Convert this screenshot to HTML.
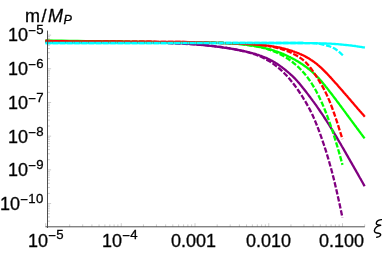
<!DOCTYPE html><html><head><meta charset="utf-8"><title>plot</title><style>html,body{margin:0;padding:0;background:#fff;}body{filter:blur(0.35px);width:382px;height:255px;overflow:hidden;position:relative;font-family:"Liberation Sans",sans-serif;color:#000;}svg{position:absolute;left:0;top:0;}.t,.yl,.xl{will-change:transform;opacity:0.999;-webkit-text-stroke:0.3px #000;}.t{position:absolute;font-size:18px;line-height:20px;white-space:nowrap;}.yl{position:absolute;right:338.0px;font-size:18px;line-height:20px;white-space:nowrap;}.xl{position:absolute;top:230.9px;font-size:18px;line-height:20px;white-space:nowrap;}.sup{font-size:13.2px;letter-spacing:0.3px;position:relative;top:-6.9px;line-height:0;margin-left:0.3px;}.xl .sup{top:-7.8px;}.mn{position:relative;top:1px;}.sub{font-size:12.6px;position:relative;top:2.4px;line-height:0;font-style:italic;margin-left:0.5px;}i{font-style:italic;}</style></head><body><svg width="382" height="255" viewBox="0 0 382 255"><path d="M45.5 41.8L53.5 42.1L61.5 42.3L69.5 42.4L77.5 42.5L85.5 42.5L93.5 42.5L101.5 42.4L109.5 42.4L117.5 42.3L125.5 42.3L133.5 42.3L141.5 42.3L149.5 42.4L157.5 42.5L165.5 42.7L173.5 43L181.5 43.4L189.5 43.9L197.5 44.5L200 44.7L201 44.8L202 44.9L203 45L204 45.1L205 45.2L206 45.3L207 45.4L208 45.5L209 45.7L210 45.8L211 45.9L212 46L213 46.1L214 46.2L215 46.4L216 46.5L217 46.6L218 46.8L219 46.9L220 47L221 47.2L222 47.3L223 47.5L224 47.6L225 47.8L226 47.9L227 48.1L228 48.2L229 48.4L230 48.6L231 48.7L232 48.9L233 49.1L234 49.2L235 49.4L236 49.6L237 49.8L238 50L239 50.2L240 50.4L241 50.6L242 50.8L243 51L244 51.2L245 51.4L246 51.6L247 51.9L248 52.1L249 52.3L250 52.6L251 52.8L252 53.1L253 53.4L254 53.6L255 53.9L256 54.2L257 54.6L258 54.9L259 55.2L260 55.6L261 55.9L262 56.3L263 56.7L264 57.1L265 57.5L266 57.9L267 58.4L268 58.9L269 59.3L270 59.8L271 60.4L272 60.9L273 61.4L274 62L275 62.6L276 63.2L277 63.8L278 64.5L279 65.2L280 65.9L281 66.6L282 67.3L283 68.1L284 68.9L285 69.7L286 70.5L287 71.3L288 72.1L289 73L290 73.9L291 74.8L292 75.7L293 76.6L294 77.6L295 78.6L296 79.7L297 80.8L298 81.9L299 83.1L300 84.3L301 85.5L302 86.7L303 88L304 89.2L305 90.5L306 91.8L307 93.1L308 94.4L309 95.7L310 97L311 98.4L312 99.7L313 101.1L314 102.4L315 103.8L316 105.2L317 106.7L318 108.1L319 109.5L320 111L321 112.5L322 113.9L323 115.4L324 117L325 118.5L326 120L327 121.6L328 123.1L329 124.7L330 126.3L331 128L332 129.6L333 131.2L334 132.9L335 134.5L336 136.2L337 137.9L338 139.6L339 141.3L340 143L341 144.7L342 146.5L343 148.2L344 149.9L345 151.7L346 153.4L347 155.2L348 156.9L349 158.7L350 160.4L351 162.2L352 163.9L353 165.7L354 167.4L355 169.2L356 170.9L357 172.7L358 174.4L359 176.2L360 178L361 179.7L362 181.5L363 183.3L364 185.1L364.6 186.2" fill="none" stroke="#800080" stroke-width="2.3" stroke-linecap="butt" stroke-linejoin="round"/><path d="M45.5 40.5L53.5 40.6L61.5 40.7L69.5 40.8L77.5 40.9L85.5 41.1L93.5 41.2L101.5 41.3L109.5 41.4L117.5 41.5L125.5 41.7L133.5 41.8L141.5 41.9L149.5 42L157.5 42.1L165.5 42.2L173.5 42.3L181.5 42.4L189.5 42.5L197.5 42.6L200 42.6L201 42.6L202 42.6L203 42.7L204 42.7L205 42.7L206 42.7L207 42.7L208 42.7L209 42.7L210 42.7L211 42.7L212 42.8L213 42.8L214 42.8L215 42.8L216 42.8L217 42.9L218 42.9L219 42.9L220 42.9L221 43L222 43L223 43L224 43.1L225 43.1L226 43.1L227 43.2L228 43.2L229 43.3L230 43.3L231 43.4L232 43.5L233 43.5L234 43.6L235 43.7L236 43.7L237 43.8L238 43.9L239 44L240 44.1L241 44.2L242 44.3L243 44.4L244 44.5L245 44.6L246 44.7L247 44.9L248 45L249 45.1L250 45.3L251 45.4L252 45.6L253 45.7L254 45.9L255 46.1L256 46.2L257 46.4L258 46.6L259 46.8L260 47L261 47.2L262 47.4L263 47.6L264 47.9L265 48.1L266 48.4L267 48.6L268 48.9L269 49.1L270 49.4L271 49.7L272 50L273 50.3L274 50.6L275 51L276 51.3L277 51.6L278 52L279 52.4L280 52.7L281 53.1L282 53.5L283 53.9L284 54.4L285 54.8L286 55.2L287 55.7L288 56.2L289 56.7L290 57.1L291 57.7L292 58.2L293 58.7L294 59.3L295 59.8L296 60.4L297 61L298 61.6L299 62.2L300 62.8L301 63.5L302 64.1L303 64.8L304 65.5L305 66.2L306 66.9L307 67.7L308 68.5L309 69.2L310 70L311 70.9L312 71.7L313 72.6L314 73.5L315 74.5L316 75.5L317 76.5L318 77.5L319 78.6L320 79.7L321 80.8L322 82L323 83.2L324 84.4L325 85.6L326 86.9L327 88.1L328 89.4L329 90.7L330 92L331 93.2L332 94.5L333 95.9L334 97.2L335 98.5L336 99.8L337 101.2L338 102.5L339 103.8L340 105.2L341 106.5L342 107.9L343 109.2L344 110.6L345 111.9L346 113.3L347 114.7L348 116L349 117.4L350 118.7L351 120.1L352 121.4L353 122.8L354 124.1L355 125.5L356 126.8L357 128.2L358 129.5L359 130.9L360 132.2L361 133.6L362 134.9L363 136.3L364 137.6L364.6 138.4" fill="none" stroke="#00ff00" stroke-width="2.3" stroke-linecap="butt" stroke-linejoin="round"/><path d="M45.5 40.9L53.5 41.1L61.5 41.2L69.5 41.2L77.5 41.3L85.5 41.4L93.5 41.4L101.5 41.4L109.5 41.5L117.5 41.5L125.5 41.6L133.5 41.6L141.5 41.6L149.5 41.7L157.5 41.8L165.5 41.8L173.5 41.9L181.5 42L189.5 42.2L197.5 42.3L200 42.4L201 42.4L202 42.4L203 42.5L204 42.5L205 42.5L206 42.5L207 42.6L208 42.6L209 42.6L210 42.7L211 42.7L212 42.7L213 42.7L214 42.8L215 42.8L216 42.8L217 42.9L218 42.9L219 42.9L220 43L221 43L222 43L223 43.1L224 43.1L225 43.1L226 43.2L227 43.2L228 43.2L229 43.3L230 43.3L231 43.4L232 43.4L233 43.4L234 43.5L235 43.5L236 43.6L237 43.6L238 43.6L239 43.7L240 43.7L241 43.8L242 43.8L243 43.9L244 43.9L245 44L246 44L247 44.1L248 44.1L249 44.2L250 44.2L251 44.3L252 44.3L253 44.4L254 44.5L255 44.5L256 44.6L257 44.7L258 44.7L259 44.8L260 44.9L261 45L262 45.1L263 45.2L264 45.3L265 45.4L266 45.5L267 45.6L268 45.7L269 45.9L270 46L271 46.1L272 46.3L273 46.4L274 46.6L275 46.8L276 46.9L277 47.1L278 47.3L279 47.5L280 47.7L281 47.9L282 48.2L283 48.4L284 48.6L285 48.9L286 49.2L287 49.4L288 49.7L289 50L290 50.3L291 50.6L292 50.9L293 51.3L294 51.6L295 52L296 52.3L297 52.7L298 53.1L299 53.5L300 54L301 54.4L302 54.9L303 55.3L304 55.8L305 56.3L306 56.9L307 57.4L308 58L309 58.6L310 59.2L311 59.9L312 60.5L313 61.2L314 61.9L315 62.7L316 63.4L317 64.2L318 65.1L319 65.9L320 66.8L321 67.7L322 68.6L323 69.6L324 70.6L325 71.6L326 72.6L327 73.6L328 74.7L329 75.8L330 76.9L331 77.9L332 79L333 80.2L334 81.3L335 82.4L336 83.5L337 84.6L338 85.8L339 86.9L340 88.1L341 89.2L342 90.3L343 91.5L344 92.7L345 93.8L346 95L347 96.1L348 97.3L349 98.4L350 99.6L351 100.8L352 101.9L353 103.1L354 104.3L355 105.4L356 106.6L357 107.7L358 108.9L359 110L360 111.2L361 112.3L362 113.5L363 114.6L364 115.8L364.8 116.7" fill="none" stroke="#ff0000" stroke-width="2.3" stroke-linecap="butt" stroke-linejoin="round"/><path d="M45.5 43L53.5 43L61.5 43L69.5 43L77.5 43L85.5 43L93.5 43L101.5 43L109.5 43L117.5 43L125.5 43L133.5 43L141.5 43L149.5 43L157.5 43L165.5 43L173.5 43L181.5 43L189.5 43L197.5 43L200 43L201 43L202 43L203 43L204 43L205 43L206 43L207 43L208 43L209 43L210 43L211 43L212 43L213 43L214 43L215 43L216 43L217 43L218 43L219 43L220 43L221 43L222 43L223 43L224 43L225 43L226 43L227 43L228 43L229 43L230 43L231 43L232 43L233 43L234 43L235 43L236 43L237 43L238 43L239 43L240 43L241 43L242 43L243 43L244 43L245 43L246 43L247 43L248 43L249 43L250 43L251 43L252 43L253 43L254 43L255 43L256 43L257 43L258 43L259 43L260 43L261 43L262 43L263 43L264 43L265 43L266 43L267 43L268 43L269 43L270 43L271 43L272 43L273 43L274 43L275 43L276 43L277 43L278 43L279 43L280 43L281 43L282 43L283 43L284 43L285 43L286 43L287 43L288 43L289 43L290 43L291 43L292 43L293 43L294 43L295 43L296 43L297 43L298 43L299 43L300 43L301 43L302 43L303 43L304 43.1L305 43.1L306 43.1L307 43.1L308 43.1L309 43.1L310 43.1L311 43.1L312 43.1L313 43.1L314 43.2L315 43.2L316 43.2L317 43.2L318 43.3L319 43.3L320 43.3L321 43.3L322 43.4L323 43.4L324 43.5L325 43.5L326 43.5L327 43.6L328 43.6L329 43.7L330 43.7L331 43.7L332 43.8L333 43.9L334 43.9L335 44L336 44.1L337 44.1L338 44.2L339 44.3L340 44.4L341 44.5L342 44.6L343 44.7L344 44.8L345 44.9L346 45L347 45.1L348 45.2L349 45.3L350 45.4L351 45.5L352 45.6L353 45.8L354 45.9L355 46L356 46.2L357 46.3L358 46.5L359 46.6L360 46.8L361 46.9L362 47.1L363 47.3L364 47.4L364.9 47.6" fill="none" stroke="#00ffff" stroke-width="2.3" stroke-linecap="butt" stroke-linejoin="round"/><path d="M45.5 41.8L53.5 41.9L61.5 41.9L69.5 42L77.5 42L85.5 42L93.5 42L101.5 42L109.5 42L117.5 42.1L125.5 42.1L133.5 42.2L141.5 42.3L149.5 42.5L157.5 42.7L165.5 42.9L173.5 43.3L181.5 43.6L189.5 44.1L197.5 44.6L200 44.8L201 44.9L202 45L203 45.1L204 45.2L205 45.2L206 45.3L207 45.4L208 45.5L209 45.6L210 45.7L211 45.8L212 45.9L213 46L214 46.1L215 46.3L216 46.4L217 46.5L218 46.6L219 46.8L220 46.9L221 47L222 47.2L223 47.3L224 47.4L225 47.6L226 47.7L227 47.9L228 48.1L229 48.2L230 48.4L231 48.6L232 48.7L233 48.9L234 49.1L235 49.3L236 49.5L237 49.7L238 49.9L239 50.1L240 50.3L241 50.5L242 50.8L243 51L244 51.2L245 51.5L246 51.7" fill="none" stroke="#800080" stroke-width="2.3" stroke-linecap="butt" stroke-linejoin="round" stroke-dasharray="5.4 1.8"/><path d="M246 51.7L247 52L248 52.2L249 52.5L250 52.8L251 53.1L252 53.4L253 53.7L254 54.1L255 54.4L256 54.8L257 55.2L258 55.6L259 56L260 56.4L261 56.8L262 57.3L263 57.8L264 58.3L265 58.8L266 59.3L267 59.9L268 60.4L269 61L270 61.6L271 62.3L272 63L273 63.6L274 64.4L275 65.1L276 65.9L277 66.6L278 67.5L279 68.3L280 69.2L281 70.1L282 71L283 72L284 72.9L285 74L286 75L287 76.1L288 77.2L289 78.3L290 79.5L291 80.7L292 81.9L293 83.2L294 84.5L295 85.8L296 87.2L297 88.6L298 90L299 91.5L300 93L301 94.5L302 96L303 97.6L304 99.3L305 100.9L306 102.6L307 104.4L308 106.2L309 108L310 109.9L311 111.9L312 114L313 116.1L314 118.4L315 120.7L316 123.1L317 125.6L318 128.1L319 130.8L320 133.5L321 136.3L322 139.2L323 142.1L324 145L325 148.1L326 151.2L327 154.5L328 157.8L329 161.2L330 164.7L331 168.3L332 172L333 175.9L334 179.8L335 183.9L336 188.1L337 192.5L338 196.9L339 201.4L340 206L341 210.7L342 215.5L342.4 217.4" fill="none" stroke="#800080" stroke-width="2.3" stroke-linecap="butt" stroke-linejoin="round" stroke-dasharray="5.4 1.8" stroke-dashoffset="6.86"/><path d="M45.5 41.1L53.5 41.1L61.5 41.1L69.5 41.2L77.5 41.2L85.5 41.3L93.5 41.4L101.5 41.5L109.5 41.6L117.5 41.7L125.5 41.8L133.5 41.9L141.5 42L149.5 42.1L157.5 42.2L165.5 42.3L173.5 42.4L181.5 42.5L189.5 42.5L197.5 42.6L200 42.6L201 42.6L202 42.6L203 42.6L204 42.6L205 42.6L206 42.6L207 42.6L208 42.6L209 42.7L210 42.7L211 42.7L212 42.7L213 42.7L214 42.7L215 42.7L216 42.8L217 42.8L218 42.8L219 42.8L220 42.8L221 42.9L222 42.9L223 42.9L224 43L225 43L226 43.1L227 43.1L228 43.1L229 43.2L230 43.3L231 43.3L232 43.4L233 43.4L234 43.5L235 43.6L236 43.7L237 43.8L238 43.8L239 43.9L240 44L241 44.1L242 44.2L243 44.4L244 44.5L245 44.6L246 44.7L247 44.9L248 45L249 45.1L250 45.3L251 45.5L252 45.6L253 45.8L254 46L255 46.2L256 46.3L257 46.5L258 46.7L259 47L260 47.2L261 47.4L262 47.7" fill="none" stroke="#00ff00" stroke-width="2.3" stroke-linecap="butt" stroke-linejoin="round" stroke-dasharray="5.4 1.8"/><path d="M262 47.7L263 47.9L264 48.2L265 48.4L266 48.7L267 49L268 49.3L269 49.6L270 50L271 50.3L272 50.7L273 51.1L274 51.5L275 51.9L276 52.3L277 52.7L278 53.2L279 53.7L280 54.2L281 54.7L282 55.2L283 55.8L284 56.3L285 56.9L286 57.5L287 58.2L288 58.8L289 59.5L290 60.2L291 60.9L292 61.7L293 62.5L294 63.3L295 64.1L296 65L297 65.8L298 66.8L299 67.7L300 68.7L301 69.7L302 70.8L303 71.9L304 73L305 74.2L306 75.5L307 76.7L308 78.1L309 79.5L310 80.9L311 82.4L312 84L313 85.6L314 87.3L315 89L316 90.8L317 92.7L318 94.6L319 96.6L320 98.7L321 100.9L322 103.1L323 105.4L324 107.8L325 110.3L326 112.8L327 115.4L328 118.1L329 120.8L330 123.6L331 126.5L332 129.5L333 132.5L334 135.7L335 138.8L336 142.1L337 145.4L338 148.8L339 152.3L340 155.8L341 159.4L342 163L342.5 164.9" fill="none" stroke="#00ff00" stroke-width="2.3" stroke-linecap="butt" stroke-linejoin="round" stroke-dasharray="5.4 1.8" stroke-dashoffset="2.83"/><path d="M45.5 40.9L53.5 41.1L61.5 41.2L69.5 41.3L77.5 41.3L85.5 41.4L93.5 41.4L101.5 41.5L109.5 41.5L117.5 41.5L125.5 41.6L133.5 41.6L141.5 41.6L149.5 41.7L157.5 41.8L165.5 41.8L173.5 41.9L181.5 42L189.5 42.2L197.5 42.3L200 42.4L201 42.4L202 42.4L203 42.4L204 42.5L205 42.5L206 42.5L207 42.5L208 42.6L209 42.6L210 42.6L211 42.6L212 42.7L213 42.7L214 42.7L215 42.8L216 42.8L217 42.8L218 42.8L219 42.9L220 42.9L221 42.9L222 43L223 43L224 43L225 43.1L226 43.1L227 43.2L228 43.2L229 43.2L230 43.3L231 43.3L232 43.3L233 43.4L234 43.4L235 43.5L236 43.5L237 43.5L238 43.6L239 43.6L240 43.7L241 43.7L242 43.8L243 43.8L244 43.9L245 43.9L246 44L247 44L248 44.1L249 44.1L250 44.2L251 44.2L252 44.3L253 44.4L254 44.4L255 44.5L256 44.6L257 44.7L258 44.7L259 44.8L260 44.9L261 45L262 45.2L263 45.3L264 45.4L265 45.5L266 45.7L267 45.8L268 46" fill="none" stroke="#ff0000" stroke-width="2.3" stroke-linecap="butt" stroke-linejoin="round" stroke-dasharray="5.4 1.8"/><path d="M268 46L269 46.1L270 46.3L271 46.5L272 46.7L273 46.9L274 47.1L275 47.3L276 47.6L277 47.8L278 48.1L279 48.4L280 48.6L281 48.9L282 49.3L283 49.6L284 49.9L285 50.3L286 50.6L287 51L288 51.4L289 51.8L290 52.3L291 52.7L292 53.2L293 53.7L294 54.2L295 54.7L296 55.2L297 55.8L298 56.4L299 57L300 57.7L301 58.4L302 59.1L303 59.9L304 60.8L305 61.7L306 62.6L307 63.7L308 64.8L309 65.9L310 67.2L311 68.5L312 69.9L313 71.3L314 72.8L315 74.3L316 75.9L317 77.5L318 79.1L319 80.7L320 82.3L321 84L322 85.7L323 87.4L324 89.3L325 91.2L326 93.2L327 95.3L328 97.6L329 99.9L330 102.3L331 104.9L332 107.5L333 110.2L334 113L335 115.9L336 118.8L337 121.9L338 125L339 128.2L340 131.4L341 134.5L342 137.7L342.5 139.2" fill="none" stroke="#ff0000" stroke-width="2.3" stroke-linecap="butt" stroke-linejoin="round" stroke-dasharray="5.4 1.8" stroke-dashoffset="2.22"/><path d="M45.5 43L53.5 43L61.5 43L69.5 43L77.5 43L85.5 43L93.5 43L101.5 43L109.5 43L117.5 43L125.5 43L133.5 43L141.5 43L149.5 43L157.5 43L165.5 43L173.5 43L181.5 43L189.5 43L197.5 43L200 43L201 43L202 43L203 43L204 43L205 43L206 43L207 43L208 43L209 43L210 43L211 43L212 43L213 43L214 43L215 43L216 43L217 43L218 43L219 43L220 43L221 43L222 43L223 43L224 43L225 43L226 43L227 43L228 43L229 43L230 43L231 43L232 43L233 43L234 43L235 43L236 43L237 43L238 43L239 43L240 43L241 43L242 43L243 43L244 43L245 43L246 43L247 43L248 43L249 43L250 43L251 43L252 43L253 43L254 43L255 43L256 43L257 43L258 43L259 43L260 43L261 43L262 43L263 43L264 43L265 43L266 43L267 43L268 43L269 43L270 43L271 43L272 43L273 43L274 43L275 43L276 43L277 43L278 43L279 43L280 43L281 43L282 43L283 43L284 43L285 43L286 43L287 43L288 43L289 43L290 43L291 43L292 43L293 43L294 43L295 43L296 43L297 43L298 43L299 43L300 43L301 43L302 43L303 43L304 43L305 43.1L306 43.1L307 43.1L308 43.1L309 43.1L310 43.1L311 43.1L312 43.2L313 43.2L314 43.3L315 43.3L316 43.4L317 43.5L318 43.6L319 43.7L320 43.9L321 44.1L322 44.3L323 44.5L324 44.8L325 45L326 45.3L327 45.6L328 45.9L329 46.2L330 46.5L331 46.9L332 47.3L333 47.8L334 48.3L335 48.8L336 49.5L337 50.2L338 51L339 51.8L340 52.7L341 53.6L342 54.5L343 55.5L343.4 56" fill="none" stroke="#00ffff" stroke-width="2.3" stroke-linecap="butt" stroke-linejoin="round" stroke-dasharray="5.4 1.8" stroke-dashoffset="0.0"/><g stroke="#707070" stroke-width="0.36" fill="none"><line x1="47.5" y1="203.55" x2="51.1" y2="203.55"/><line x1="47.5" y1="193.41" x2="49.9" y2="193.41"/><line x1="47.5" y1="187.48" x2="49.9" y2="187.48"/><line x1="47.5" y1="183.27" x2="49.9" y2="183.27"/><line x1="47.5" y1="180.00" x2="49.9" y2="180.00"/><line x1="47.5" y1="177.33" x2="49.9" y2="177.33"/><line x1="47.5" y1="175.08" x2="49.9" y2="175.08"/><line x1="47.5" y1="173.12" x2="49.9" y2="173.12"/><line x1="47.5" y1="171.40" x2="49.9" y2="171.40"/><line x1="47.5" y1="169.86" x2="51.1" y2="169.86"/><line x1="47.5" y1="159.72" x2="49.9" y2="159.72"/><line x1="47.5" y1="153.79" x2="49.9" y2="153.79"/><line x1="47.5" y1="149.58" x2="49.9" y2="149.58"/><line x1="47.5" y1="146.31" x2="49.9" y2="146.31"/><line x1="47.5" y1="143.64" x2="49.9" y2="143.64"/><line x1="47.5" y1="141.39" x2="49.9" y2="141.39"/><line x1="47.5" y1="139.43" x2="49.9" y2="139.43"/><line x1="47.5" y1="137.71" x2="49.9" y2="137.71"/><line x1="47.5" y1="136.17" x2="51.1" y2="136.17"/><line x1="47.5" y1="126.03" x2="49.9" y2="126.03"/><line x1="47.5" y1="120.10" x2="49.9" y2="120.10"/><line x1="47.5" y1="115.89" x2="49.9" y2="115.89"/><line x1="47.5" y1="112.62" x2="49.9" y2="112.62"/><line x1="47.5" y1="109.95" x2="49.9" y2="109.95"/><line x1="47.5" y1="107.70" x2="49.9" y2="107.70"/><line x1="47.5" y1="105.74" x2="49.9" y2="105.74"/><line x1="47.5" y1="104.02" x2="49.9" y2="104.02"/><line x1="47.5" y1="102.48" x2="51.1" y2="102.48"/><line x1="47.5" y1="92.34" x2="49.9" y2="92.34"/><line x1="47.5" y1="86.41" x2="49.9" y2="86.41"/><line x1="47.5" y1="82.20" x2="49.9" y2="82.20"/><line x1="47.5" y1="78.93" x2="49.9" y2="78.93"/><line x1="47.5" y1="76.26" x2="49.9" y2="76.26"/><line x1="47.5" y1="74.01" x2="49.9" y2="74.01"/><line x1="47.5" y1="72.05" x2="49.9" y2="72.05"/><line x1="47.5" y1="70.33" x2="49.9" y2="70.33"/><line x1="47.5" y1="68.79" x2="51.1" y2="68.79"/><line x1="47.5" y1="58.65" x2="49.9" y2="58.65"/><line x1="47.5" y1="52.72" x2="49.9" y2="52.72"/><line x1="47.5" y1="48.51" x2="49.9" y2="48.51"/><line x1="47.5" y1="45.24" x2="49.9" y2="45.24"/><line x1="47.5" y1="42.57" x2="49.9" y2="42.57"/><line x1="47.5" y1="40.32" x2="49.9" y2="40.32"/><line x1="47.5" y1="38.36" x2="49.9" y2="38.36"/><line x1="47.5" y1="36.64" x2="49.9" y2="36.64"/><line x1="47.5" y1="35.10" x2="51.1" y2="35.10"/><line x1="47.5" y1="221.17" x2="49.9" y2="221.17"/><line x1="47.5" y1="216.96" x2="49.9" y2="216.96"/><line x1="47.5" y1="213.69" x2="49.9" y2="213.69"/><line x1="47.5" y1="211.02" x2="49.9" y2="211.02"/><line x1="47.5" y1="208.77" x2="49.9" y2="208.77"/><line x1="47.5" y1="206.81" x2="49.9" y2="206.81"/><line x1="47.5" y1="205.09" x2="49.9" y2="205.09"/><line x1="47.50" y1="226.8" x2="47.50" y2="223.20000000000002"/><line x1="69.70" y1="226.8" x2="69.70" y2="224.4"/><line x1="82.69" y1="226.8" x2="82.69" y2="224.4"/><line x1="91.90" y1="226.8" x2="91.90" y2="224.4"/><line x1="99.05" y1="226.8" x2="99.05" y2="224.4"/><line x1="104.89" y1="226.8" x2="104.89" y2="224.4"/><line x1="109.83" y1="226.8" x2="109.83" y2="224.4"/><line x1="114.10" y1="226.8" x2="114.10" y2="224.4"/><line x1="117.88" y1="226.8" x2="117.88" y2="224.4"/><line x1="121.25" y1="226.8" x2="121.25" y2="223.20000000000002"/><line x1="143.45" y1="226.8" x2="143.45" y2="224.4"/><line x1="156.44" y1="226.8" x2="156.44" y2="224.4"/><line x1="165.65" y1="226.8" x2="165.65" y2="224.4"/><line x1="172.80" y1="226.8" x2="172.80" y2="224.4"/><line x1="178.64" y1="226.8" x2="178.64" y2="224.4"/><line x1="183.58" y1="226.8" x2="183.58" y2="224.4"/><line x1="187.85" y1="226.8" x2="187.85" y2="224.4"/><line x1="191.63" y1="226.8" x2="191.63" y2="224.4"/><line x1="195.00" y1="226.8" x2="195.00" y2="223.20000000000002"/><line x1="217.20" y1="226.8" x2="217.20" y2="224.4"/><line x1="230.19" y1="226.8" x2="230.19" y2="224.4"/><line x1="239.40" y1="226.8" x2="239.40" y2="224.4"/><line x1="246.55" y1="226.8" x2="246.55" y2="224.4"/><line x1="252.39" y1="226.8" x2="252.39" y2="224.4"/><line x1="257.33" y1="226.8" x2="257.33" y2="224.4"/><line x1="261.60" y1="226.8" x2="261.60" y2="224.4"/><line x1="265.38" y1="226.8" x2="265.38" y2="224.4"/><line x1="268.75" y1="226.8" x2="268.75" y2="223.20000000000002"/><line x1="290.95" y1="226.8" x2="290.95" y2="224.4"/><line x1="303.94" y1="226.8" x2="303.94" y2="224.4"/><line x1="313.15" y1="226.8" x2="313.15" y2="224.4"/><line x1="320.30" y1="226.8" x2="320.30" y2="224.4"/><line x1="326.14" y1="226.8" x2="326.14" y2="224.4"/><line x1="331.08" y1="226.8" x2="331.08" y2="224.4"/><line x1="335.35" y1="226.8" x2="335.35" y2="224.4"/><line x1="339.13" y1="226.8" x2="339.13" y2="224.4"/><line x1="342.50" y1="226.8" x2="342.50" y2="223.20000000000002"/><line x1="364.70" y1="226.8" x2="364.70" y2="224.4"/><line x1="45.7" y1="226.8" x2="45.7" y2="223.20000000000002"/></g><g stroke="#484848" stroke-width="0.95" fill="none"><line x1="47.5" y1="30.6" x2="47.5" y2="228.0"/><line x1="45.5" y1="226.8" x2="364.8" y2="226.8"/></g><path d="M382.6 219.7C379.5 219.3 376.6 220.8 376.3 223C376.1 224.6 377.6 225.2 380.7 225.2C377.6 225.6 374.6 228 374.4 230.6C374.2 232.6 376.4 233 378.6 233.2C380.6 233.4 381 234.6 380.3 235.6C379.6 236.6 378.2 237.1 376.7 237.2" fill="none" stroke="#000" stroke-width="1.4" stroke-linecap="round" stroke-linejoin="round"/></svg><div class="t" style="left:24.5px;top:6.3px">m<span style="margin-left:1.5px">/</span><i style="margin-left:1.5px">M</i><span class="sub">P</span></div><div class="yl" style="top:194.0px">10<span class="sup"><span class="mn">−</span>10</span></div><div class="yl" style="top:160.3px">10<span class="sup"><span class="mn">−</span>9</span></div><div class="yl" style="top:126.6px">10<span class="sup"><span class="mn">−</span>8</span></div><div class="yl" style="top:92.8px">10<span class="sup"><span class="mn">−</span>7</span></div><div class="yl" style="top:59.1px">10<span class="sup"><span class="mn">−</span>6</span></div><div class="yl" style="top:25.4px">10<span class="sup"><span class="mn">−</span>5</span></div><div class="xl" style="left:28px">10<span class="sup"><span class="mn">−</span>5</span></div><div class="xl" style="left:102px">10<span class="sup"><span class="mn">−</span>4</span></div><div class="xl" style="left:170.8px">0.001</div><div class="xl" style="left:245.9px">0.010</div><div class="xl" style="left:319.3px">0.100</div></body></html>
